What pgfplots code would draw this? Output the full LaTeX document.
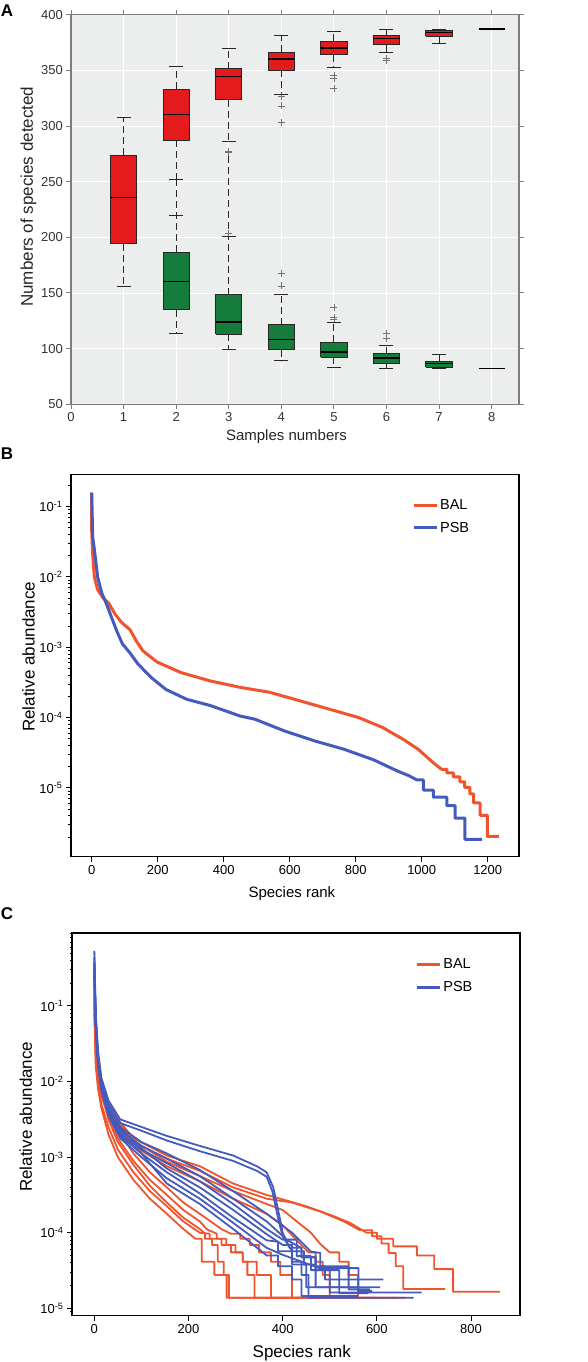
\documentclass[border=0pt]{standalone}
\usepackage{pgfplots}
\pgfplotsset{compat=1.18}
\usepackage{fontspec}
\setmainfont{Liberation Sans}
\definecolor{bgA}{RGB}{236,237,237}
\definecolor{boxred}{RGB}{228,26,28}
\definecolor{boxgreen}{RGB}{22,124,60}
\definecolor{bal}{RGB}{240,84,44}
\definecolor{psb}{RGB}{68,90,188}
\definecolor{frameA}{RGB}{125,125,125}
\pgfplotsset{
  balC/.style={bal, line width=1.8pt, line join=round, forget plot},
  psbC/.style={psb, line width=1.8pt, line join=round, forget plot},
}
\begin{document}
\begin{tikzpicture}
\path[use as bounding box] (0pt,0pt) rectangle (588pt,-1362pt);
\node[font=\fontsize{17}{17}\selectfont\bfseries] at (7pt,-11pt) {A};
\node[font=\fontsize{17}{17}\selectfont\bfseries] at (7pt,-454pt) {B};
\node[font=\fontsize{17}{17}\selectfont\bfseries] at (7pt,-914pt) {C};

% ---------------- Panel A ----------------
\begin{axis}[
  at={(71pt,-404.3pt)}, anchor=south west, scale only axis,
  width=448pt, height=389.6pt,
  xmin=0, xmax=8.52, ymin=50, ymax=400,
  xtick={0,1,2,3,4,5,6,7,8}, ytick={50,100,150,200,250,300,350,400},
  axis background/.style={fill=bgA},
  grid=major, major grid style={white, line width=0.9pt},
  axis line style={frameA, line width=1.5pt},
  tick align=outside, tick pos=both,
  major tick length=4.7pt,
  every tick/.style={frameA, line width=1pt},
  unbounded coords=jump,
  /pgf/number format/assume math mode=true,
  ticklabel style={font=\fontsize{13}{13}\selectfont, text=black!80},
  xlabel={Samples numbers}, ylabel={Numbers of species detected},
  xlabel style={at={(axis description cs:0.481,-0.083)}, anchor=center, font=\fontsize{15}{15}\selectfont, text=black!85},
  ylabel style={at={(axis description cs:-0.095,0.533)}, anchor=center, font=\fontsize{17}{17}\selectfont, text=black!85},
]
% whiskers (dashed)
\addplot[black!85, line width=1pt, dash pattern=on 7pt off 4pt] coordinates {
 (1,273.7) (1,308) (nan,nan) (1,194.3) (1,155.4) (nan,nan)
 (2,333.2) (2,353.9) (nan,nan) (2,287.1) (2,252) (nan,nan)
 (3,351.5) (3,369.2) (nan,nan) (3,323.7) (3,286.2) (nan,nan)
 (4,366.2) (4,381.4) (nan,nan) (4,350.3) (4,328.1) (nan,nan)
 (5,376) (5,385) (nan,nan) (5,363.8) (5,353) (nan,nan)
 (6,381.1) (6,387.1) (nan,nan) (6,373) (6,366.2) (nan,nan)
 (7,380.5) (7,374.3) (nan,nan)
 (2,186.5) (2,252) (nan,nan) (2,135) (2,113.5) (nan,nan)
 (3,148.5) (3,277) (nan,nan) (3,113) (3,99.4) (nan,nan)
 (4,121.3) (4,148.5) (nan,nan) (4,99.1) (4,89.2) (nan,nan)
 (5,105.7) (5,123.4) (nan,nan) (5,92.2) (5,83.5) (nan,nan)
 (6,95.5) (6,102.4) (nan,nan) (6,87.1) (6,82.6) (nan,nan)
 (7,88.9) (7,94.3)};
% BAL boxes (red): quartiles
\addplot[fill=boxred, draw=black!85, line width=1pt, line join=miter] coordinates {
 (0.75,194.3) (1.25,194.3) (1.25,273.7) (0.75,273.7) (0.75,194.3) (nan,nan)
 (1.75,287.1) (2.25,287.1) (2.25,333.2) (1.75,333.2) (1.75,287.1) (nan,nan)
 (2.75,323.7) (3.25,323.7) (3.25,351.5) (2.75,351.5) (2.75,323.7) (nan,nan)
 (3.75,350.3) (4.25,350.3) (4.25,366.2) (3.75,366.2) (3.75,350.3) (nan,nan)
 (4.75,363.8) (5.25,363.8) (5.25,376) (4.75,376) (4.75,363.8) (nan,nan)
 (5.75,373) (6.25,373) (6.25,381.1) (5.75,381.1) (5.75,373) (nan,nan)
 (6.75,380.5) (7.25,380.5) (7.25,386.2) (6.75,386.2) (6.75,380.5)};
% PSB boxes (green): quartiles
\addplot[fill=boxgreen, draw=black!85, line width=1pt, line join=miter] coordinates {
 (1.75,135) (2.25,135) (2.25,186.5) (1.75,186.5) (1.75,135) (nan,nan)
 (2.75,113) (3.25,113) (3.25,148.5) (2.75,148.5) (2.75,113) (nan,nan)
 (3.75,99.1) (4.25,99.1) (4.25,121.3) (3.75,121.3) (3.75,99.1) (nan,nan)
 (4.75,92.2) (5.25,92.2) (5.25,105.7) (4.75,105.7) (4.75,92.2) (nan,nan)
 (5.75,87.1) (6.25,87.1) (6.25,95.5) (5.75,95.5) (5.75,87.1) (nan,nan)
 (6.75,83.5) (7.25,83.5) (7.25,88.9) (6.75,88.9) (6.75,83.5)};
% medians
\addplot[black, line width=1.2pt] coordinates {
 (0.75,236) (1.25,236) (nan,nan) (1.75,310.5) (2.25,310.5) (nan,nan)
 (2.75,344.6) (3.25,344.6) (nan,nan) (3.75,360.2) (4.25,360.2) (nan,nan)
 (4.75,370) (5.25,370) (nan,nan) (5.75,378.4) (6.25,378.4) (nan,nan)
 (6.75,384.1) (7.25,384.1) (nan,nan) (7.75,387.1) (8.25,387.1) (nan,nan)
 (1.75,160.5) (2.25,160.5) (nan,nan) (2.75,124) (3.25,124) (nan,nan)
 (3.75,108.4) (4.25,108.4) (nan,nan) (4.75,97) (5.25,97) (nan,nan)
 (5.75,91.6) (6.25,91.6) (nan,nan) (6.75,86.5) (7.25,86.5) (nan,nan)
 (7.75,82) (8.25,82)};
% outliers
\addplot[only marks, mark=+, mark size=3.5pt, mark options={draw=black!55, line width=0.7pt}] coordinates {
 (3,277) (3,276) (4,326.3) (4,318) (4,303) (5,345.5) (5,343) (5,333.8) (6,360.5) (6,359)
 (3,203.6) (4,167.4) (4,156.3) (5,137.4) (5,127.8) (5,126.3) (6,113.8) (6,109)};
% whisker caps
\addplot[only marks, mark=-, mark size=7pt, mark options={black!85, line width=1pt}] coordinates {
 (1,308) (1,155.4) (2,353.9) (2,252) (3,369.2) (3,286.2) (4,381.4) (4,328.1)
 (5,385) (5,353) (6,387.1) (6,366.2) (7,386.8) (7,374.3)
 (2,219.2) (2,113.5) (3,200.3) (3,99.4) (4,148.5) (4,89.2) (5,123.4) (5,83.5)
 (6,102.4) (6,82.6) (7,94.3) (7,82)};
\end{axis}

% ---------------- Panel B ----------------
\begin{axis}[
  at={(71pt,-856.7pt)}, anchor=south west, scale only axis,
  width=448pt, height=382.4pt,
  ymode=log, xmin=-62.7, xmax=1294.8, ymin=1.05e-6, ymax=0.288,
  xtick={0,200,400,600,800,1000,1200},
  ytick={1e-5,1e-4,1e-3,1e-2,1e-1},
  yticklabels={10\textsuperscript{-5},10\textsuperscript{-4},10\textsuperscript{-3},10\textsuperscript{-2},10\textsuperscript{-1}},
  minor ytick={2e-6,3e-6,4e-6,5e-6,6e-6,7e-6,8e-6,9e-6,2e-5,3e-5,4e-5,5e-5,6e-5,7e-5,8e-5,9e-5,2e-4,3e-4,4e-4,5e-4,6e-4,7e-4,8e-4,9e-4,2e-3,3e-3,4e-3,5e-3,6e-3,7e-3,8e-3,9e-3,2e-2,3e-2,4e-2,5e-2,6e-2,7e-2,8e-2,9e-2,2e-1},
  tick align=outside, tick pos=left,
  major tick length=5pt, minor tick length=2.5pt,
  axis line style={line width=1.5pt},
  every tick/.style={black, line width=1pt},
  /pgf/number format/assume math mode=true,
  /pgf/number format/1000 sep={},
  scaled x ticks=false,
  ticklabel style={font=\fontsize{13}{13}\selectfont},
  xlabel={Species rank}, ylabel={Relative abundance},
  xlabel style={at={(axis description cs:0.493,-0.0957)}, anchor=center, font=\fontsize{15}{15}\selectfont},
  ylabel style={at={(axis description cs:-0.095,0.523)}, anchor=center, font=\fontsize{17}{17}\selectfont},
  legend image code/.code={\draw[#1] (0pt,0pt) -- (23pt,0pt);},
  legend style={draw=none, fill=none, at={(axis description cs:0.761,0.940)}, anchor=north west,
    font=\fontsize{14.5}{14.5}\selectfont, row sep=7pt, inner sep=0pt},
  legend cell align=left,
]
\addplot[bal, line width=3pt, line join=round] coordinates {
 (0,0.158) (0,0.0457) (3,0.0209) (8,0.01) (18,0.0066) (35,0.005) (51,0.00427) (71,0.00295)
 (91,0.00224) (116,0.00178) (135,0.00123) (155,8.9e-4) (198,6.17e-4) (270,4.37e-4)
 (360,3.31e-4) (450,2.69e-4) (539,2.29e-4) (629,1.74e-4) (719,1.32e-4) (809,1.0e-4)
 (881,7.24e-5) (944,4.9e-5) (989,3.55e-5) (1034,2.3e-5) (1060,1.84e-5) (1076,1.84e-5)
 (1076,1.63e-5) (1096,1.63e-5) (1096,1.43e-5) (1116,1.43e-5) (1116,1.22e-5) (1130,1.22e-5)
 (1130,1.02e-5) (1146,1.02e-5) (1146,8.2e-6) (1157,8.2e-6) (1157,6.1e-6) (1177,6.1e-6)
 (1177,4.07e-6) (1199,4.07e-6) (1199,2.04e-6) (1234,2.04e-6)};
\addplot[psb, line width=3pt, line join=round] coordinates {
 (0,0.158) (3,0.037) (10,0.0209) (18,0.01) (30,0.006) (45,0.0041) (61,0.0026) (76,0.0017)
 (93,0.00112) (116,8.3e-4) (140,5.8e-4) (180,3.72e-4) (225,2.51e-4) (288,1.82e-4)
 (360,1.48e-4) (450,1.05e-4) (494,9.5e-5) (584,6.46e-5) (674,4.68e-5) (764,3.55e-5)
 (854,2.51e-5) (926,1.74e-5) (960,1.5e-5) (985,1.3e-5) (1005,1.3e-5) (1005,9.3e-6)
 (1035,9.3e-6) (1035,7.4e-6) (1076,7.4e-6) (1076,5.6e-6) (1101,5.6e-6) (1101,3.72e-6)
 (1131,3.72e-6) (1131,1.86e-6) (1182,1.86e-6)};
\legend{BAL,PSB}
\end{axis}

% ---------------- Panel C ----------------
\begin{axis}[
  at={(72pt,-1315.7pt)}, anchor=south west, scale only axis,
  width=448pt, height=382.7pt,
  ymode=log, xmin=-47.4, xmax=904, ymin=7.98e-6, ymax=0.924,
  xtick={0,200,400,600,800},
  ytick={1e-5,1e-4,1e-3,1e-2,1e-1},
  yticklabels={10\textsuperscript{-5},10\textsuperscript{-4},10\textsuperscript{-3},10\textsuperscript{-2},10\textsuperscript{-1}},
  minor ytick={9e-6,2e-5,3e-5,4e-5,5e-5,6e-5,7e-5,8e-5,9e-5,2e-4,3e-4,4e-4,5e-4,6e-4,7e-4,8e-4,9e-4,2e-3,3e-3,4e-3,5e-3,6e-3,7e-3,8e-3,9e-3,2e-2,3e-2,4e-2,5e-2,6e-2,7e-2,8e-2,9e-2,2e-1,3e-1,4e-1,5e-1,6e-1,7e-1,8e-1,9e-1},
  tick align=outside, tick pos=left,
  major tick length=5pt, minor tick length=2.5pt,
  axis line style={line width=1.5pt},
  every tick/.style={black, line width=1pt},
  /pgf/number format/assume math mode=true,
  /pgf/number format/1000 sep={},
  scaled x ticks=false,
  ticklabel style={font=\fontsize{13}{13}\selectfont},
  xlabel={Species rank}, ylabel={Relative abundance},
  xlabel style={at={(axis description cs:0.513,-0.098)}, anchor=center, font=\fontsize{17}{17}\selectfont},
  ylabel style={at={(axis description cs:-0.103,0.52)}, anchor=center, font=\fontsize{17}{17}\selectfont},
  legend image code/.code={\draw[#1] (0pt,0pt) -- (23pt,0pt);},
  legend style={draw=none, fill=none, at={(axis description cs:0.766,0.938)}, anchor=north west,
    font=\fontsize{14.5}{14.5}\selectfont, row sep=7pt, inner sep=0pt},
  legend cell align=left,
]
% BAL curves
\addplot[balC] coordinates {(0,0.2) (3,0.0398) (8,0.0158) (15,0.00891) (30,0.00501) (50,0.00316) (83,0.00178) (154,0.00105) (224,7.59e-4) (295,4.47e-4) (366,3.16e-4) (401,2.75e-4) (450,2.24e-4) (508,1.66e-4) (543,1.35e-4) (578,1.0e-4) (600,1.0e-4) (600,8.3e-5) (635,8.3e-5) (635,6.6e-5) (685,6.6e-5) (685,5.0e-5) (722,5.0e-5) (722,3.3e-5) (762,3.3e-5) (762,1.66e-5) (862,1.66e-5)};
\addplot[balC] coordinates {(0,0.158) (3,0.0355) (8,0.0141) (15,0.00794) (30,0.00447) (50,0.00282) (83,0.00158) (154,9.55e-4) (224,6.6e-4) (295,3.98e-4) (366,2.82e-4) (420,2.51e-4) (480,1.91e-4) (530,1.41e-4) (564,1.08e-4) (590,1.08e-4) (590,9.0e-5) (610,9.0e-5) (610,7.2e-5) (625,7.2e-5) (625,5.4e-5) (640,5.4e-5) (640,3.6e-5) (656,3.6e-5) (656,1.8e-5) (745,1.8e-5)};
\addplot[balC] coordinates {(0,0.251) (3,0.0501) (8,0.0178) (15,0.01) (30,0.00501) (50,0.00316) (83,0.00166) (154,8.7e-4) (224,5.62e-4) (295,3.55e-4) (366,2.4e-4) (400,2.0e-4) (430,1.41e-4) (460,1.0e-4) (480,7.08e-5) (500,5.5e-5) (520,5.5e-5) (520,4.14e-5) (540,4.14e-5) (540,2.76e-5) (560,2.76e-5) (560,1.38e-5) (660,1.38e-5)};
\addplot[balC] coordinates {(0,0.178) (3,0.0355) (8,0.0141) (15,0.00794) (30,0.00398) (50,0.00251) (83,0.00141) (154,7.59e-4) (224,4.79e-4) (295,2.82e-4) (366,1.78e-4) (400,1.26e-4) (430,7.94e-5) (455,5.5e-5) (470,5.5e-5) (470,4.14e-5) (485,4.14e-5) (485,2.76e-5) (500,2.76e-5) (500,1.38e-5) (646,1.38e-5)};
\addplot[balC] coordinates {(0,0.126) (3,0.0251) (8,0.0112) (15,0.00631) (30,0.00355) (50,0.00178) (83,8.91e-4) (118,5.01e-4) (154,3.16e-4) (189,2.0e-4) (224,1.41e-4) (240,1.1e-4) (260,9.7e-5) (260,8.3e-5) (280,8.3e-5) (280,6.9e-5) (300,6.9e-5) (300,5.5e-5) (315,5.5e-5) (315,4.14e-5) (325,4.14e-5) (325,2.76e-5) (340,2.76e-5) (340,1.38e-5) (520,1.38e-5)};
\addplot[balC] coordinates {(0,0.141) (3,0.0282) (8,0.0126) (15,0.00708) (30,0.00316) (50,0.00158) (83,7.94e-4) (118,4.17e-4) (154,2.51e-4) (189,1.58e-4) (224,1.12e-4) (235,9.7e-5) (235,8.3e-5) (250,8.3e-5) (250,6.9e-5) (262,6.9e-5) (262,4.14e-5) (275,4.14e-5) (275,2.76e-5) (286,2.76e-5) (286,1.38e-5) (472,1.38e-5)};
\addplot[balC] coordinates {(0,0.1) (3,0.02) (8,0.00891) (15,0.00501) (30,0.00251) (50,0.00126) (83,6.31e-4) (118,3.55e-4) (154,2.24e-4) (189,1.41e-4) (224,1.0e-4) (245,9.7e-5) (245,8.3e-5) (270,8.3e-5) (270,6.9e-5) (290,6.9e-5) (290,5.5e-5) (315,5.5e-5) (315,4.14e-5) (345,4.14e-5) (345,2.76e-5) (375,2.76e-5) (375,1.38e-5) (600,1.38e-5)};
\addplot[balC] coordinates {(0,0.0794) (3,0.0158) (8,0.00794) (15,0.00447) (30,0.002) (50,0.001) (83,5.01e-4) (118,2.82e-4) (154,1.78e-4) (189,1.12e-4) (215,8.3e-5) (228,8.3e-5) (228,4.14e-5) (255,4.14e-5) (255,2.76e-5) (281,2.76e-5) (281,1.38e-5) (500,1.38e-5)};
\addplot[balC] coordinates {(0,0.112) (3,0.0251) (8,0.0126) (15,0.00794) (30,0.00398) (50,0.00224) (83,0.00112) (118,6.31e-4) (154,3.98e-4) (189,2.51e-4) (224,1.78e-4) (270,1.12e-4) (290,9.7e-5) (310,9.7e-5) (310,8.3e-5) (330,8.3e-5) (330,6.9e-5) (350,6.9e-5) (350,5.5e-5) (375,5.5e-5) (375,4.14e-5) (395,4.14e-5) (395,2.76e-5) (420,2.76e-5) (420,1.38e-5) (560,1.38e-5)};
% PSB curves
\addplot[psbC] coordinates {(0,0.537) (3,0.0794) (8,0.0251) (15,0.0112) (30,0.00562) (55,0.00316) (100,0.00251) (154,0.00191) (224,0.00141) (295,0.00105) (345,7.59e-4) (366,6.3e-4) (380,3.98e-4) (392,1.78e-4) (400,1.0e-4) (415,6.31e-5) (440,6.31e-5) (440,4.8e-5) (470,4.8e-5) (470,3.6e-5) (490,3.6e-5) (490,2.4e-5) (614,2.4e-5)};
\addplot[psbC] coordinates {(0,0.447) (3,0.0708) (8,0.0224) (15,0.01) (30,0.00501) (55,0.00282) (100,0.00224) (154,0.00166) (224,0.0012) (295,8.91e-4) (345,6.6e-4) (366,5.5e-4) (378,3.55e-4) (390,1.58e-4) (400,8.91e-5) (420,5.7e-5) (445,5.7e-5) (445,3.8e-5) (470,3.8e-5) (470,1.9e-5) (607,1.9e-5)};
\addplot[psbC] coordinates {(0,0.316) (3,0.0631) (8,0.02) (15,0.01) (30,0.00447) (55,0.00251) (100,0.00158) (154,0.00112) (224,6.76e-4) (295,3.55e-4) (366,1.78e-4) (420,1.0e-4) (460,5.62e-5) (480,5.4e-5) (480,3.6e-5) (540,3.6e-5) (540,1.78e-5) (585,1.78e-5)};
\addplot[psbC] coordinates {(0,0.355) (3,0.0562) (8,0.0178) (15,0.00891) (30,0.00398) (55,0.00224) (100,0.00141) (154,9.55e-4) (224,5.62e-4) (295,2.82e-4) (366,1.41e-4) (410,7.94e-5) (440,6.3e-5) (440,4.7e-5) (470,4.7e-5) (470,3.2e-5) (520,3.2e-5) (520,1.58e-5) (582,1.58e-5)};
\addplot[psbC] coordinates {(0,0.282) (3,0.0501) (8,0.0178) (15,0.00794) (30,0.00398) (55,0.00209) (100,0.00126) (154,8.32e-4) (224,4.79e-4) (295,2.4e-4) (366,1.12e-4) (400,8.1e-5) (430,8.1e-5) (430,4.9e-5) (460,4.9e-5) (460,3.2e-5) (500,3.2e-5) (500,1.62e-5) (695,1.62e-5)};
\addplot[psbC] coordinates {(0,0.398) (3,0.0631) (8,0.02) (15,0.00891) (30,0.00447) (55,0.0024) (100,0.00132) (154,7.08e-4) (224,3.98e-4) (295,2.0e-4) (366,9.55e-5) (400,6.9e-5) (420,6.9e-5) (420,4.14e-5) (440,4.14e-5) (440,2.76e-5) (455,2.76e-5) (455,1.38e-5) (678,1.38e-5)};
\addplot[psbC] coordinates {(0,0.251) (3,0.0501) (8,0.0158) (15,0.00794) (30,0.00355) (55,0.00191) (100,0.00112) (154,6.31e-4) (224,3.31e-4) (295,1.58e-4) (366,7.94e-5) (390,7.6e-5) (390,5.7e-5) (420,5.7e-5) (420,3.8e-5) (450,3.8e-5) (450,1.9e-5) (561,1.9e-5)};
\addplot[psbC] coordinates {(0,0.316) (3,0.0562) (8,0.0178) (15,0.00794) (30,0.00355) (55,0.00178) (100,0.001) (154,5.25e-4) (224,2.82e-4) (295,1.35e-4) (366,6.31e-5) (400,5.1e-5) (478,3.4e-5) (561,3.4e-5) (561,1.7e-5) (590,1.7e-5)};
\addplot[psbC] coordinates {(0,0.355) (3,0.0631) (8,0.02) (15,0.00891) (30,0.00398) (55,0.002) (100,0.00112) (154,4.47e-4) (224,2.4e-4) (295,1.12e-4) (366,5.01e-5) (390,5.01e-5) (390,3.6e-5) (420,3.6e-5) (420,2.4e-5) (440,2.4e-5) (440,1.45e-5) (560,1.45e-5)};
\addlegendimage{bal, line width=3pt}
\addlegendentry{BAL}
\addlegendimage{psb, line width=3pt}
\addlegendentry{PSB}
\end{axis}
\end{tikzpicture}
\end{document}
